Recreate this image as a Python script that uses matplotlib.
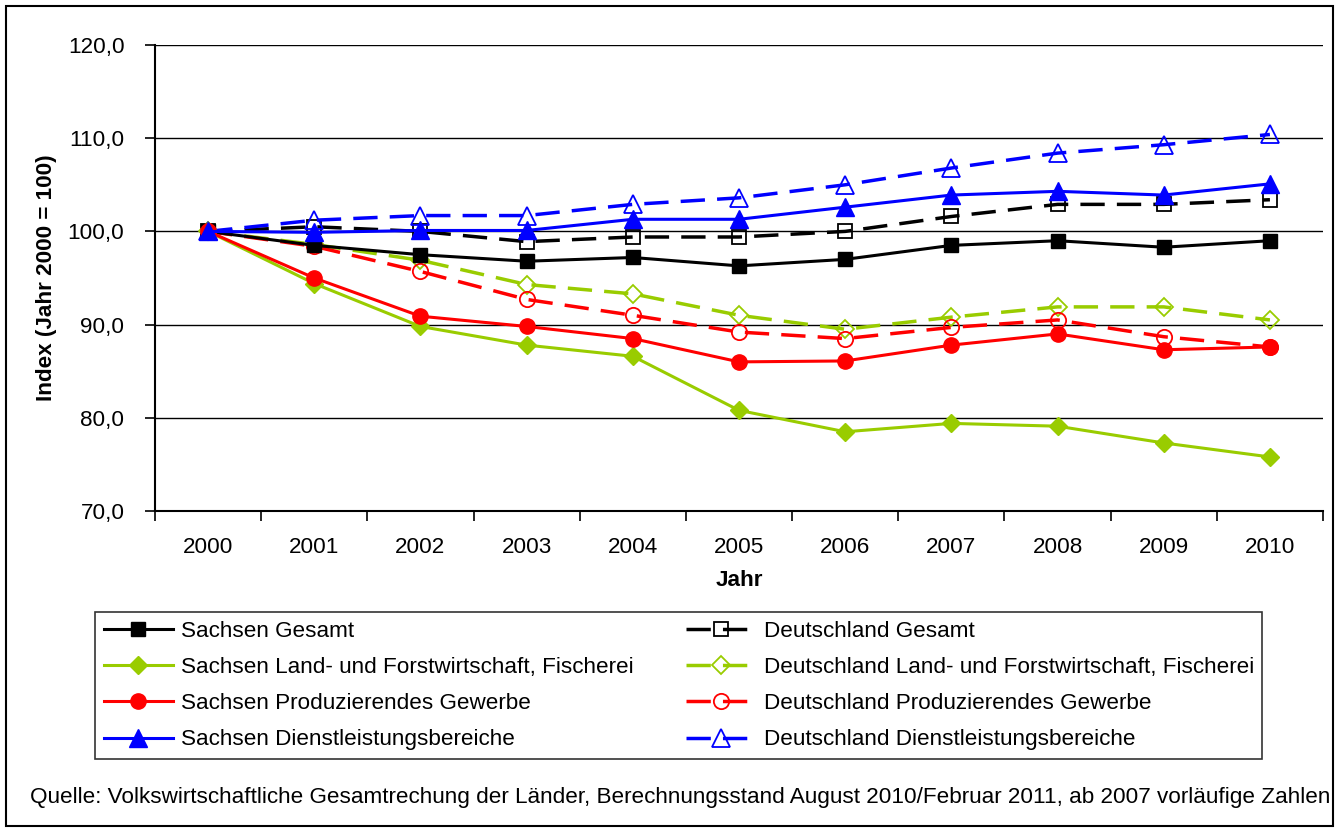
import numpy as np
import matplotlib.pyplot as plt
from matplotlib.patches import Rectangle
from matplotlib.ticker import FuncFormatter

plt.rcParams['font.family'] = ['Liberation Sans', 'DejaVu Sans']

# Werte (Index, Jahr 2000 = 100)
jahre = ['2000', '2001', '2002', '2003', '2004', '2005', '2006', '2007', '2008', '2009', '2010']

sn_gesamt = [100.0, 98.5, 97.5, 96.8, 97.2, 96.3, 97.0, 98.5, 99.0, 98.3, 99.0]
sn_land = [100.0, 94.4, 89.8, 87.8, 86.6, 80.8, 78.5, 79.4, 79.1, 77.3, 75.8]
sn_prod = [100.0, 95.0, 90.9, 89.8, 88.5, 86.0, 86.1, 87.8, 89.0, 87.3, 87.6]
sn_dienst = [100.0, 99.9, 100.1, 100.1, 101.3, 101.3, 102.6, 103.9, 104.3, 103.9, 105.1]

de_gesamt = [100.0, 100.5, 100.0, 98.9, 99.4, 99.4, 100.0, 101.6, 102.9, 102.9, 103.4]
de_land = [100.0, 98.6, 96.9, 94.3, 93.3, 91.0, 89.5, 90.8, 91.9, 91.9, 90.5]
de_prod = [100.0, 98.4, 95.7, 92.7, 91.0, 89.2, 88.5, 89.7, 90.5, 88.7, 87.6]
de_dienst = [100.0, 101.2, 101.7, 101.7, 102.9, 103.6, 105.0, 106.8, 108.4, 109.3, 110.4]

schwarz = 'black'
gruen = '#99CC00'
rot = '#FF0000'
blau = '#0000FF'
fs = 16.2

fig = plt.figure(figsize=(13.39, 8.32), dpi=100)
ax = fig.add_axes([155 / 1339, 1 - 511 / 832, (1323 - 155) / 1339, (511 - 45) / 832])

x = np.arange(len(jahre))
dash = (0, (7, 3.5))

# Sachsen (durchgezogen, gefuellte Marker)
ax.plot(x, sn_gesamt, color=schwarz, lw=2.2, marker='s', ms=10.5, zorder=5,
        label='Sachsen Gesamt')
ax.plot(x, sn_land, color=gruen, lw=2.2, marker='D', ms=9.5, zorder=5,
        label='Sachsen Land- und Forstwirtschaft, Fischerei')
ax.plot(x, sn_prod, color=rot, lw=2.2, marker='o', ms=11, zorder=5,
        label='Sachsen Produzierendes Gewerbe')
ax.plot(x, sn_dienst, color=blau, lw=2.2, marker='^', ms=12.5, zorder=5,
        label='Sachsen Dienstleistungsbereiche')

# Deutschland (gestrichelt, offene Marker)
ax.plot(x, de_gesamt, color=schwarz, lw=2.5, ls=dash, marker='s', ms=10.5,
        mfc='none', mew=1.3, zorder=4, label='Deutschland Gesamt')
ax.plot(x, de_land, color=gruen, lw=2.5, ls=dash, marker='D', ms=9.5,
        mfc='none', mew=1.3, zorder=4,
        label='Deutschland Land- und Forstwirtschaft, Fischerei')
ax.plot(x, de_prod, color=rot, lw=2.5, ls=dash, marker='o', ms=11,
        mfc='none', mew=1.3, zorder=4, label='Deutschland Produzierendes Gewerbe')
ax.plot(x, de_dienst, color=blau, lw=2.5, ls=dash, marker='^', ms=12.5,
        mfc='none', mew=1.3, zorder=4, label='Deutschland Dienstleistungsbereiche')

ax.set_xlim(-0.5, len(jahre) - 0.5)
ax.set_ylim(70, 120)
ax.set_yticks(np.arange(70, 121, 10))
ax.yaxis.set_major_formatter(FuncFormatter(lambda v, p: f'{v:.1f}'.replace('.', ',')))
ax.grid(axis='y', color='black', lw=1.0)
ax.set_axisbelow(True)

# Kategorien: Striche zwischen den Jahren, Beschriftung in der Mitte
ax.set_xticks(np.arange(-0.5, len(jahre), 1.0))
ax.set_xticklabels([])
ax.set_xticks(x, minor=True)
ax.set_xticklabels(jahre, minor=True)
ax.tick_params(axis='x', which='major', direction='out', length=7, width=1.2)
ax.tick_params(axis='x', which='minor', length=0, pad=19, labelsize=fs)
ax.tick_params(axis='y', direction='out', length=7, width=1.2, pad=15, labelsize=fs)

for s in ['top', 'right']:
    ax.spines[s].set_visible(False)
for s in ['left', 'bottom']:
    ax.spines[s].set_linewidth(1.5)

ax.set_xlabel('Jahr', fontsize=fs, fontweight='bold', labelpad=8)
ax.set_ylabel('Index (Jahr 2000 = 100)', fontsize=fs, fontweight='bold')
ax.yaxis.set_label_coords((57 - 155) / 1168, 0.5)

leg = fig.legend(loc='upper left', ncol=2,
                 bbox_to_anchor=(95 / 1339, 1 - 612 / 832),
                 fontsize=fs, frameon=True, fancybox=False, handlelength=3.1,
                 handletextpad=0.36, labelspacing=0.68, columnspacing=2.3,
                 borderpad=0.38, borderaxespad=0.0)
leg.get_frame().set_edgecolor('black')
leg.get_frame().set_linewidth(1.2)

fig.text(30 / 1339, 1 - 798 / 832,
         'Quelle: Volkswirtschaftliche Gesamtrechung der Länder, Berechnungsstand '
         'August 2010/Februar 2011, ab 2007 vorläufige Zahlen',
         fontsize=fs, va='center', ha='left')

fig.patches.append(Rectangle((6 / 1339, 6 / 832), 1 - 12 / 1339, 1 - 12 / 832,
                             transform=fig.transFigure, fill=False,
                             edgecolor='black', lw=1.5))

fig.savefig('out.png', dpi=100)
